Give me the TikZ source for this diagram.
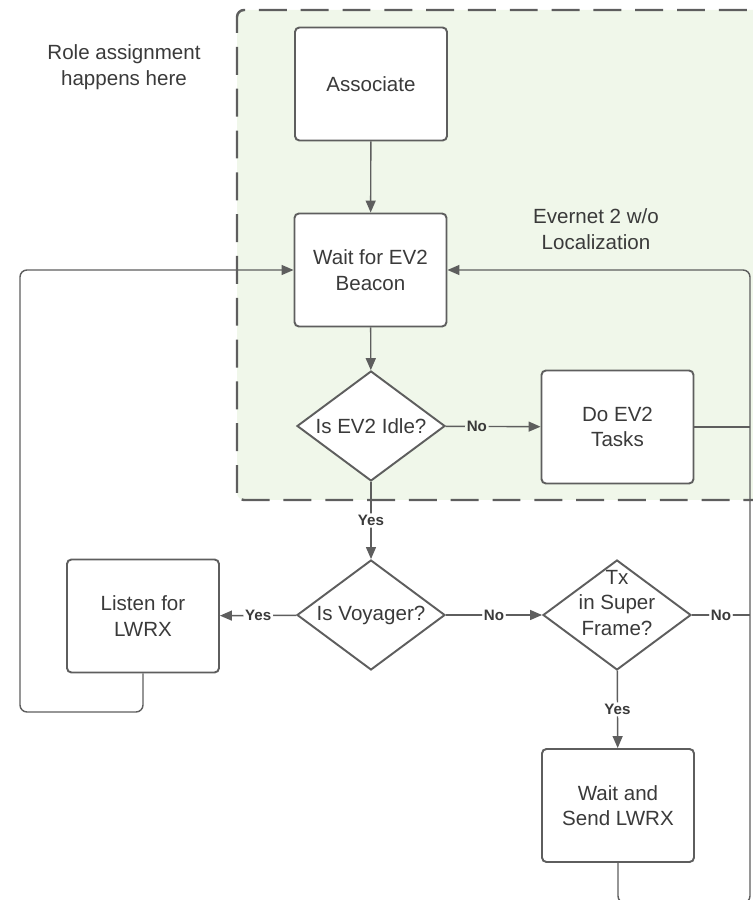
\documentclass[tikz,border=0pt]{standalone}
\usepackage{fontspec}
\setmainfont{Liberation Sans}
\usetikzlibrary{shapes.geometric,arrows.meta}
\definecolor{zonegreen}{RGB}{240,247,234}
\definecolor{linegray}{RGB}{94,94,94}
\definecolor{textgray}{RGB}{58,58,58}

\begin{document}
\begin{tikzpicture}[
    x=0.02cm,
    y=0.02cm,
    every node/.style={font=\fontsize{11.7}{14.5}\selectfont, text=textgray},
    box/.style={draw=linegray, line width=1.1pt, fill=white, rounded corners=2.5pt,
        minimum width=3.04cm, minimum height=2.26cm, align=center},
    decision/.style={diamond, draw=linegray, line width=1.1pt, fill=white,
        minimum width=2.96cm, minimum height=2.2cm, inner sep=0pt},
    flow/.style={draw=linegray, line width=0.8pt, rounded corners=4pt,
        -{Triangle[length=0.24cm,width=0.2cm]}},
    wire/.style={draw=linegray, line width=0.8pt, rounded corners=4pt},
    tag/.style={font=\bfseries\fontsize{8.6}{10}\selectfont, fill=white, inner sep=1pt}
]

\useasboundingbox (0,0) rectangle (753,900);

% Evernet zone
\draw[linegray, line width=1.4pt, dash pattern=on 15.9pt off 7.9pt,
      fill=zonegreen, rounded corners=4pt] (237,400) rectangle (775,890);
\node[align=center] (zone label) at (596,671) {Evernet 2 w/o\\Localization};
\node[align=center] (role) at (124,833) {Role assignment\\happens here};

% Steps
\node[box] (assoc)  at (371,816) {Associate};
\node[box] (beacon) at (370.5,630) {Wait for EV2\\Beacon};
\node[box] (tasks)  at (617.5,473) {Do EV2\\Tasks};
\node[box] (listen) at (143,284) {Listen for\\LWRX};
\node[box] (send)   at (618,94.5) {Wait and\\Send LWRX};

% Decisions
\node[decision, label={center:Is EV2 Idle?}] (idle) at (371,474) {};
\node[decision, label={center:Is Voyager?}] (voyager) at (371,285) {};
\node[decision, label={[align=center,yshift=0.24cm]center:Tx\\in Super\\Frame?}]
      (txsf) at (617,285) {};

% Rail points
\coordinate (rail task) at (750,473);
\coordinate (rail tx)   at (750,285);
\coordinate (rail foot) at (750,-3);
\coordinate (loop foot) at (20,188);

% Main flow
\draw[flow] (assoc) -- (beacon);
\draw[flow] (beacon) -- (idle);
\draw[flow] (idle) -- node[tag, fill=zonegreen, pos=.33] {No} (tasks);
\draw[flow] (idle) -- node[tag] {Yes} (voyager);
\draw[flow] (voyager) -- node[tag] {Yes} (listen);
\draw[flow] (voyager) -- node[tag] {No} (txsf);
\draw[flow] (txsf) -- node[tag] {Yes} (send);

% Back to the beacon
\draw[wire] (tasks) -- (rail task);
\draw[wire] (txsf) -- node[tag] {No} (rail tx);
\draw[flow] (send) |- (rail foot) |- (beacon.east);
\draw[flow] (listen) |- (loop foot) |- (beacon.west);

\end{tikzpicture}
\end{document}
